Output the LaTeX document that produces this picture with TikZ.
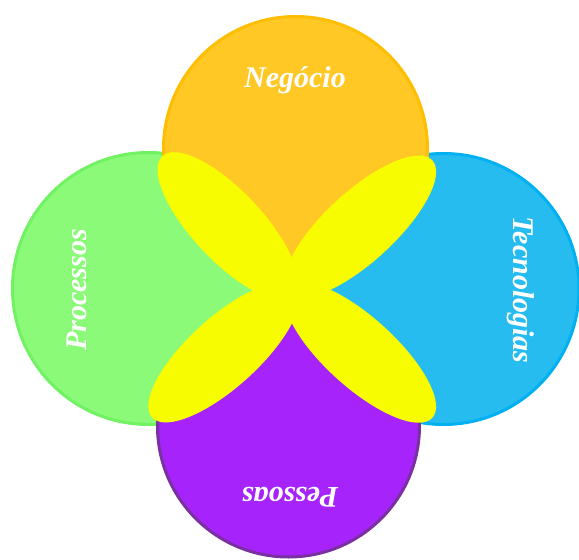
\documentclass[tikz,border=0pt]{standalone}
\usepackage{fontspec}
\setmainfont{Liberation Serif}
\usetikzlibrary{shapes.geometric}
\definecolor{negocioorange}{HTML}{FFC824}
\definecolor{negocioedge}{HTML}{FFBE00}
\definecolor{processosgreen}{HTML}{8AFA78}
\definecolor{processosedge}{HTML}{70F262}
\definecolor{tecnoblue}{HTML}{27BCF0}
\definecolor{tecnoedge}{HTML}{00B0F0}
\definecolor{pessoaspurple}{HTML}{A623FB}
\definecolor{pessoasedge}{HTML}{7A30A0}
\definecolor{petalyellow}{HTML}{F8FC00}
\begin{document}
\begin{tikzpicture}[x=1pt, y=-1pt,
  ring/.style={circle, inner sep=0pt, line width=3pt},
  petal/.style={ellipse, inner sep=0pt, fill=petalyellow, minimum height=70pt},
  word/.style={text=white, inner sep=0pt,
    font=\fontsize{30}{30}\selectfont\bfseries\itshape}]
  \useasboundingbox (0,0) rectangle (579,560);
  \clip (0,0) rectangle (579,560);
  % the four circles
  \node[ring, draw=processosedge, fill=processosgreen, minimum size=272pt] (processos) at (148.5,288.5) {};
  \node[ring, draw=tecnoedge, fill=tecnoblue, minimum size=271pt] (tecnologias) at (443.5,289) {};
  \node[ring, draw=negocioedge, fill=negocioorange, minimum size=264pt] (negocio) at (295.5,148.5) {};
  \node[ring, draw=pessoasedge, fill=pessoaspurple, minimum size=262pt] (pessoas) at (288.5,426) {};
  % yellow petals
  \node[petal, minimum width=191pt, rotate=-46.8] (petal ul) at (227.7,225.8) {};
  \node[petal, minimum width=196pt, rotate=42.6] (petal ur) at (360.2,226.7) {};
  \node[petal, minimum width=194pt, rotate=42.2] (petal ll) at (223.9,352.3) {};
  \node[petal, minimum width=195pt, rotate=-42.2] (petal lr) at (360.1,352.3) {};
  % labels
  \node[word] (t negocio) at (295,80) {Negócio};
  \node[word, rotate=90] (t processos) at (77,290) {Processos};
  \node[word, rotate=-90] (t tecnologias) at (521,290) {Tecnologias};
  \node[word, rotate=180] (t pessoas) at (290,497) {Pessoas};
\end{tikzpicture}
\end{document}
